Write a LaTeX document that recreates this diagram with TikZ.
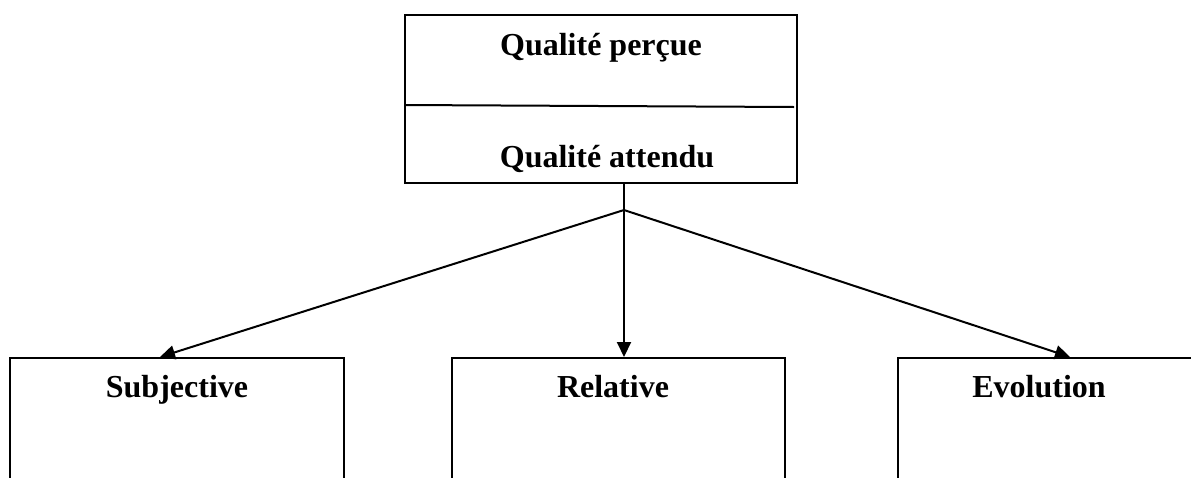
\documentclass[tikz,border=0pt]{standalone}
\usepackage{fontspec}
\setmainfont{Liberation Serif}
\usetikzlibrary{arrows.meta}
\begin{document}
\begin{tikzpicture}[x=1pt,y=-1pt,
  frame/.style={draw=black, line width=2pt, rectangle, inner sep=0pt},
  title/.style={font=\fontsize{32}{38}\selectfont\bfseries, anchor=base, inner sep=0pt},
  link/.style={line width=2pt, -{Triangle[length=15pt,width=14pt]}}]
\clip (0,0) rectangle (1191,477);
\fill[white] (0,0) rectangle (1191,477);

% upper box with its two compartments
\node[frame, minimum width=392pt, minimum height=168pt] (top) at (601,99) {};
\draw[line width=2pt] (top.west |- 0,105) coordinate (divL) -- (794,107) coordinate (divR);
\node[title] (percue) at (601,55) {Qualité perçue};
\node[title] (attendu) at (607,167) {Qualité attendu};

% lower boxes (open towards the bottom)
\node[frame, anchor=north, minimum width=334pt, minimum height=160pt] (subj) at (177,357) {};
\node[frame, anchor=north, minimum width=333pt, minimum height=160pt] (rel) at (618.5,357) {};
\node[frame, anchor=north west, minimum width=330pt, minimum height=160pt] (evo) at (897,357) {};
\node[title] (subjt) at (177,397) {Subjective};
\node[title] (relt) at (613,397) {Relative};
\node[title] (evot) at (1039,397) {Evolution};

% connectors
\coordinate (J) at (624,210);
\coordinate (tipS) at (160,357);
\coordinate (tipR) at (624,357);
\coordinate (tipE) at (1070,357);
\draw[line width=2pt] (top.south -| J) -- (J);
\draw[link] (J) -- (tipS);
\draw[link] (J) -- (tipR);
\draw[link] (J) -- (tipE);
\end{tikzpicture}
\end{document}
